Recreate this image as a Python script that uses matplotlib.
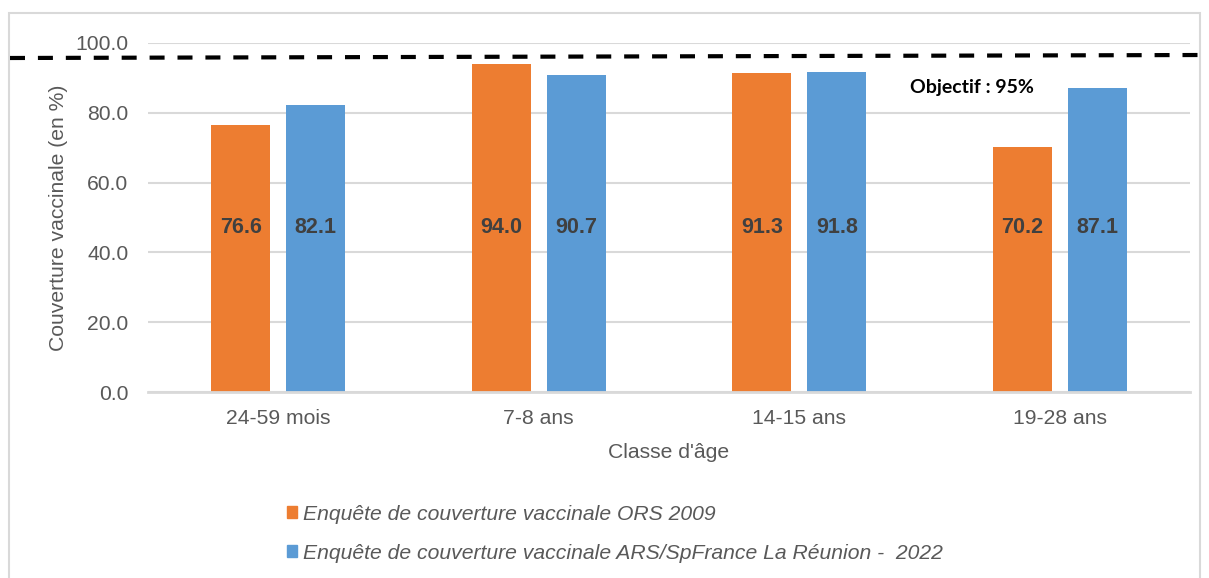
import numpy as np
import matplotlib.pyplot as plt
from matplotlib.patches import Rectangle
from matplotlib.lines import Line2D

# data
categories = ['24-59 mois', '7-8 ans', '14-15 ans', '19-28 ans']
ors_2009 = [76.6, 94.0, 91.3, 70.2]
ars_2022 = [82.1, 90.7, 91.8, 87.1]
series_names = ['Enquête de couverture vaccinale ORS 2009',
                'Enquête de couverture vaccinale ARS/SpFrance La Réunion -  2022']
yticks = [0, 20, 40, 60, 80, 100]

orange = '#ED7D31'
blue = '#5B9BD5'
grey_txt = '#595959'
grid_col = '#D9D9D9'

plt.rcParams['font.family'] = ['Liberation Sans', 'DejaVu Sans']

W, H = 1209, 578
fig = plt.figure(figsize=(W / 100, H / 100), dpi=100)
ax = fig.add_axes([148 / W, 1 - 392 / H, (1190 - 148) / W, (392 - 43) / H])

x = np.arange(len(categories))
bw = 0.225
off = 0.144
ax.bar(x - off, ors_2009, bw, color=orange, label=series_names[0], zorder=3)
ax.bar(x + off, ars_2022, bw, color=blue, label=series_names[1], zorder=3)

# value labels (placed mid-height like the original)
for i in range(len(categories)):
    ax.text(x[i] - off, 47, f'{ors_2009[i]:.1f}', ha='center', va='center',
            fontsize=15.5, fontweight='bold', color='#404040', zorder=4)
    ax.text(x[i] + off, 47, f'{ars_2022[i]:.1f}', ha='center', va='center',
            fontsize=15.5, fontweight='bold', color='#404040', zorder=4)

ax.set_xlim(-0.5, len(categories) - 0.5)
ax.set_ylim(0, 100)
ax.set_yticks(yticks)
ax.set_yticklabels([f'{v:.1f}' for v in yticks])
ax.set_xticks(x)
ax.set_xticklabels(categories)
ax.tick_params(axis='both', length=0, labelsize=15.2, labelcolor=grey_txt)
ax.tick_params(axis='y', pad=14)
ax.tick_params(axis='x', pad=12)
ax.grid(axis='y', color=grid_col, lw=1.5, zorder=0)
for s in ['top', 'right', 'left']:
    ax.spines[s].set_visible(False)
ax.spines['bottom'].set_color(grid_col)
ax.spines['bottom'].set_linewidth(2)
ax.spines['bottom'].set_zorder(5)

ax.set_ylabel('Couverture vaccinale (en %)', fontsize=15.2, color=grey_txt, labelpad=5)
ax.set_xlabel("Classe d'âge", fontsize=15.2, color=grey_txt, labelpad=11)

# objective line (drawn across the whole frame)
fig.add_artist(Line2D([10 / W, 1203 / W], [1 - 58 / H, 1 - 55 / H],
                      color='black', lw=3.0, ls=(0, (3.6, 3.1))))
fig.text(972 / W, 1 - 87 / H, 'Objectif : 95%', ha='center', va='center',
         fontsize=14, fontweight='bold', family=['Lato', 'DejaVu Sans'],
         color='black')

# outer frame
fig.add_artist(Rectangle((9 / W, -0.05), (1200 - 9) / W, 1.05 - 13 / H,
                         fill=False, ec=grid_col, lw=1.5))

handles = [Rectangle((0, 0), 1, 1, color=orange), Rectangle((0, 0), 1, 1, color=blue)]
leg = fig.legend(handles, series_names, loc='upper left',
                 bbox_to_anchor=(270 / W, 1 - 488 / H), frameon=False,
                 prop={'size': 15.2, 'style': 'italic'}, handlelength=0.5,
                 handleheight=0.5, handletextpad=0.28, labelspacing=0.95,
                 borderpad=0.3)
for t in leg.get_texts():
    t.set_color(grey_txt)

fig.savefig('out.png', dpi=100)
